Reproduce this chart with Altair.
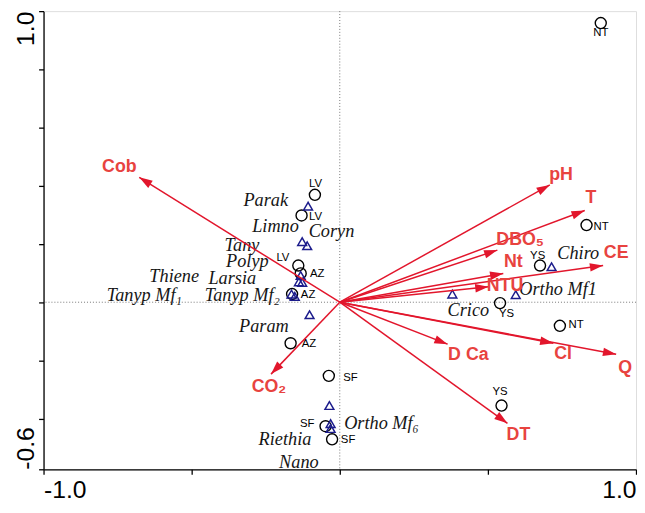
import math
import altair as alt
import pandas as pd

# ---- environmental vectors (arrows) ----
env_names = ["Cob", "pH", "T", "DBO\u2085", "Nt", "CE", "NTU", "Cl", "Q", "D Ca", "DT", "CO\u2082"]
env_x = [-0.677, 0.709, 0.827, 0.532, 0.552, 0.889, 0.502, 0.721, 0.933, 0.364, 0.566, -0.232]
env_y = [0.429, 0.403, 0.315, 0.179, 0.099, 0.126, 0.053, -0.141, -0.179, -0.144, -0.416, -0.247]
env_lx = [-0.744, 0.747, 0.848, 0.609, 0.586, 0.933, 0.558, 0.754, 0.963, 0.434, 0.603, -0.239]
env_ly = [0.466, 0.436, 0.358, 0.213, 0.139, 0.169, 0.054, -0.179, -0.226, -0.182, -0.456, -0.291]

# ---- sites (circles) ----
site_lab = ["LV", "LV", "LV", "AZ", "AZ", "AZ", "SF", "SF", "SF", "NT", "NT", "NT", "YS", "YS", "YS"]
site_x = [-0.084, -0.129, -0.140, -0.132, -0.161, -0.166, -0.037, -0.048, -0.026, 0.881, 0.833, 0.743, 0.676, 0.541, 0.546]
site_y = [0.369, 0.298, 0.126, 0.099, 0.028, -0.141, -0.253, -0.426, -0.471, 0.959, 0.265, -0.081, 0.126, -0.003, -0.355]
site_lx = [-0.082, -0.082, -0.192, -0.076, -0.107, -0.104, 0.036, -0.110, 0.028, 0.881, 0.882, 0.798, 0.668, 0.563, 0.541]
site_ly = [0.405, 0.293, 0.152, 0.096, 0.023, -0.144, -0.259, -0.417, -0.473, 0.924, 0.257, -0.077, 0.160, -0.040, -0.310]

# ---- species (triangles) ----
tri_x = [-0.107, -0.127, -0.110, -0.132, -0.138, -0.127, -0.163, -0.152, -0.102, -0.035, -0.031, -0.031, 0.380, 0.594, 0.715]
tri_y = [0.330, 0.208, 0.194, 0.092, 0.070, 0.068, 0.028, 0.020, -0.043, -0.355, -0.417, -0.434, 0.028, 0.026, 0.122]

spp_names = ["Parak", "Limno", "Coryn", "Tany", "Polyp", "Larsia", "Thiene", "Tanyp Mf\u2081", "Tanyp Mf\u2082",
             "Param", "Ortho Mf\u2086", "Riethia", "Nano", "Chiro", "Ortho Mf1", "Crico"]
spp_x = [-0.250, -0.217, -0.028, -0.330, -0.312, -0.363, -0.559, -0.660, -0.329, -0.256, 0.141, -0.185, -0.138, 0.805, 0.737, 0.434]
spp_y = [0.351, 0.261, 0.246, 0.198, 0.142, 0.083, 0.090, 0.024, 0.023, -0.081, -0.416, -0.471, -0.550, 0.169, 0.045, -0.028]

# ---- axes ----
x_ticks = [-1.0, -0.5, 0.0, 0.5, 1.0]
y_ticks = [1.0, 0.8, 0.6, 0.4, 0.2, 0.0, -0.2, -0.4, -0.574]
X_DOM = [-1.0, 1.0]
Y_DOM = [-0.574, 1.0]
W, H = 600, 464

RED = "#e2162c"
RED_TXT = "#e8433f"
BLUE = "#1c1c8c"

xs = alt.Scale(domain=X_DOM, nice=False, zero=False)
ys = alt.Scale(domain=Y_DOM, nice=False, zero=False)

x_axis = alt.Axis(values=x_ticks, title=None, grid=False, labelFlush=True,
                  labelExpr="datum.value < -0.9 ? '-1.0' : (datum.value > 0.9 ? '1.0' : '')",
                  labelFontSize=25, labelFont="Liberation Sans", labelColor="black",
                  labelPadding=4, tickSize=5, tickColor="black", tickWidth=1.3,
                  domainColor="black", domainWidth=1.3)
y_axis = alt.Axis(values=y_ticks, title=None, grid=False,
                  labelExpr="datum.value > 0.9 ? '1.0' : (datum.value < -0.5 ? '-0.6' : '')",
                  labelAngle=270,
                  labelAlign={"condition": {"test": "datum.value > 0", "value": "right"}, "value": "left"},
                  labelBaseline="bottom",
                  labelFontSize=25, labelFont="Liberation Sans", labelColor="black",
                  labelPadding=0, tickSize=5, tickColor="black", tickWidth=1.3,
                  domainColor="black", domainWidth=1.3)


def X(f):
    return alt.X(f"{f}:Q", scale=xs, axis=x_axis)


def Y(f):
    return alt.Y(f"{f}:Q", scale=ys, axis=y_axis)


kx = W / (X_DOM[1] - X_DOM[0])
ky = H / (Y_DOM[1] - Y_DOM[0])

env = pd.DataFrame({"name": env_names, "x": env_x, "y": env_y, "lx": env_lx, "ly": env_ly})
env["ox"] = 0.0
env["oy"] = 0.0
env["ang"] = [(math.degrees(math.atan2(a * kx, b * ky)) + 360) % 360 for a, b in zip(env_x, env_y)]

sites = pd.DataFrame({"lab": site_lab, "x": site_x, "y": site_y, "lx": site_lx, "ly": site_ly})
tris = pd.DataFrame({"x": tri_x, "y": tri_y})
spp = pd.DataFrame({"name": spp_names, "x": spp_x, "y": spp_y})
zero = pd.DataFrame({"v": [0.0]})

vline = alt.Chart(zero).mark_rule(color="#555555", strokeWidth=0.8, strokeDash=[1, 2]).encode(
    x=X("v"))
hline = alt.Chart(zero).mark_rule(color="#555555", strokeWidth=0.8, strokeDash=[1, 2]).encode(
    y=Y("v"))

spp_text = alt.Chart(spp).mark_text(font="Liberation Serif", fontStyle="italic", fontSize=18.5,
                                    color="#161616").encode(x=X("x"), y=Y("y"), text="name:N")

circles = alt.Chart(sites).mark_point(shape="circle", size=125, filled=False, color="black",
                                      strokeWidth=1.4, opacity=1).encode(x=X("x"), y=Y("y"))
site_text = alt.Chart(sites).mark_text(font="Liberation Sans", fontSize=11.5, color="black").encode(
    x=X("lx"), y=Y("ly"), text="lab:N")

triangles = alt.Chart(tris).mark_point(shape="triangle-up", size=80, filled=False, color=BLUE,
                                       strokeWidth=1.5, opacity=1).encode(x=X("x"), y=Y("y"))

arrows = alt.Chart(env).mark_rule(color=RED, strokeWidth=1.5).encode(
    x=X("ox"), y=Y("oy"), x2="x:Q", y2="y:Q")
heads = alt.Chart(env).mark_point(shape="M0,0L-0.32,1L0.32,1Z", size=720, filled=True, color=RED,
                                  opacity=1, strokeWidth=0).encode(
    x=X("x"), y=Y("y"), angle=alt.Angle("ang:Q", scale=None))
env_text = alt.Chart(env).mark_text(font="Liberation Sans", fontWeight="bold", fontSize=18,
                                    color=RED_TXT).encode(x=X("lx"), y=Y("ly"), text="name:N")

chart = alt.layer(vline, hline, spp_text, circles, site_text, triangles, arrows, heads, env_text).properties(
    width=W, height=H,
    autosize=alt.AutoSizeParams(type="none"),
    padding={"left": 36, "top": 0, "right": 1, "bottom": 35},
).configure_view(stroke="black", strokeWidth=1.3).configure(background="white")

chart.save("out.html", embed_options={"renderer": "svg", "actions": False})
